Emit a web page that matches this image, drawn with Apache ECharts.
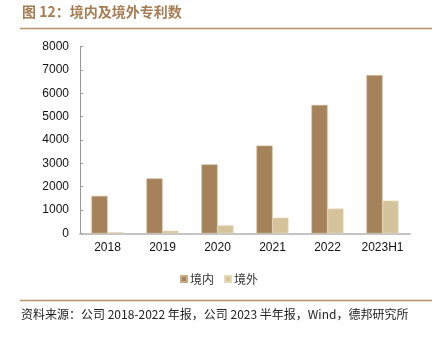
<!DOCTYPE html>
<html>
<head>
<meta charset="utf-8">
<style>
  html, body { margin: 0; padding: 0; background: #fff; }
  #chart { width: 438px; height: 343px; }
</style>
<script src="https://cdn.jsdelivr.net/npm/echarts@6/dist/echarts.min.js"></script>
</head>
<body>
<div id="chart"></div>
<script>
// Patent counts by year (domestic vs overseas)
const categories = ['2018', '2019', '2020', '2021', '2022', '2023H1'];
const domestic = [1600, 2350, 2950, 3760, 5500, 6780];
const overseas = [40, 110, 340, 670, 1060, 1400];
const yTicks = { min: 0, max: 8000, interval: 1000 };

const chart = echarts.init(document.getElementById('chart'), null, { renderer: 'canvas' });
const latin = 'Liberation Sans, Arial, sans-serif';
const cjk = '"Noto Sans CJK SC", sans-serif';

chart.setOption({
  animation: false,
  backgroundColor: '#fff',
  grid: { left: 80, right: 28, top: 46.7, bottom: 109.7, containLabel: false },
  legend: {
    data: ['境内', '境外'],
    top: 268,
    left: 'center',
    itemWidth: 6,
    itemHeight: 6,
    itemGap: 10,
    icon: 'rect',
    textStyle: { fontFamily: cjk, fontSize: 12, color: '#333', padding: [0, 0, 0, -2] }
  },
  xAxis: {
    type: 'category',
    data: categories,
    boundaryGap: true,
    axisLine: { lineStyle: { color: '#c4c4c4', width: 2 } },
    axisTick: { inside: true, length: 4, lineStyle: { color: '#888' } },
    axisLabel: { fontFamily: latin, fontSize: 12, color: '#111', margin: 8 }
  },
  yAxis: {
    type: 'value',
    min: yTicks.min,
    max: yTicks.max,
    interval: yTicks.interval,
    splitLine: { show: false },
    axisLine: { show: true, lineStyle: { color: '#999', width: 1 } },
    axisTick: { show: true, inside: true, length: 3, lineStyle: { color: '#999' } },
    axisLabel: { fontFamily: latin, fontSize: 12, color: '#111', margin: 11, formatter: v => String(v) }
  },
  series: [
    {
      name: '境内',
      type: 'bar',
      data: domestic,
      barWidth: 16,
      barGap: '0%',
      itemStyle: { color: '#a6825a', borderColor: '#c9ab84', borderWidth: 0.6 }
    },
    {
      name: '境外',
      type: 'bar',
      data: overseas,
      barWidth: 16,
      itemStyle: { color: '#d5c39b', borderColor: '#e6d9b5', borderWidth: 0.6 }
    }
  ],
  graphic: [
    {
      type: 'text', left: 22, top: 5,
      style: { text: '图 12：境内及境外专利数', fontFamily: cjk, fontWeight: 'bold', fontSize: 14, fill: '#a67c52' }
    },
    {
      type: 'line', shape: { x1: 20, y1: 28.5, x2: 432, y2: 28.5 },
      style: { stroke: '#b8946e', lineWidth: 1.5 }
    },
    {
      type: 'line', shape: { x1: 20, y1: 300.5, x2: 432, y2: 300.5 },
      style: { stroke: '#b8946e', lineWidth: 1.5 }
    },
    {
      type: 'text', left: 21, top: 308,
      style: { text: '资料来源：公司 2018-2022 年报，公司 2023 半年报，Wind，德邦研究所', fontFamily: cjk, fontSize: 12, fill: '#222' }
    }
  ]
});
</script>
</body>
</html>
